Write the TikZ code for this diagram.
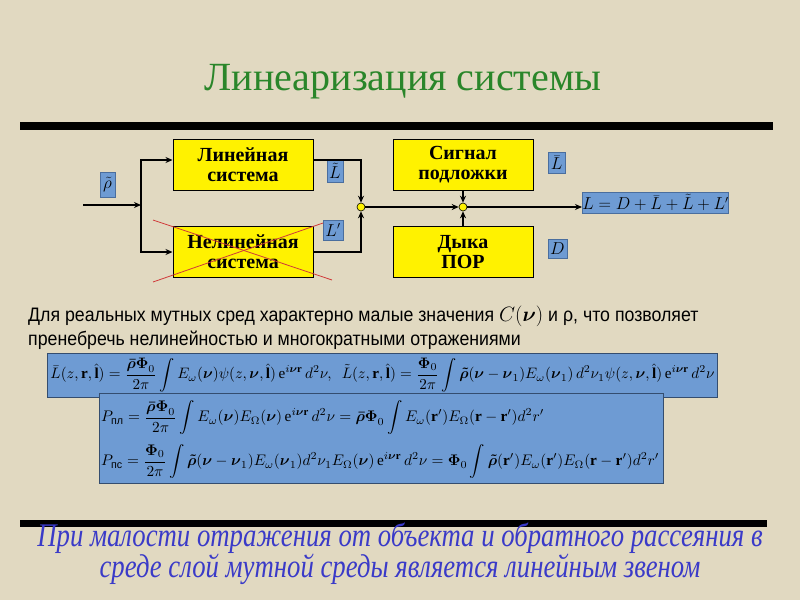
\documentclass[tikz,border=0pt]{standalone}
\usepackage{fontspec}
\usepackage{amsmath}
\usepackage{graphicx}
\setmainfont{Liberation Serif}
\setsansfont{Liberation Sans}
\newfontfamily\narrowsans[FakeStretch=0.91]{Liberation Sans}
\newfontfamily\narrowserif[FakeStretch=0.81]{Liberation Serif}
\usetikzlibrary{arrows.meta}
\definecolor{bg}{HTML}{E1D9C1}
\definecolor{titlegreen}{HTML}{2A862A}
\definecolor{lblblue}{HTML}{6E9BD3}
\definecolor{lblborder}{HTML}{4A6E9E}
\definecolor{bluetext}{HTML}{3A3AC8}
\definecolor{crossred}{HTML}{D03A3A}
\begin{document}
\begin{tikzpicture}[x=1pt,y=-1pt,
  block/.style={draw=black, fill=yellow, line width=1pt, inner sep=0pt,
    minimum width=140pt, minimum height=51pt, align=center,
    font=\bfseries\fontsize{20}{20}\selectfont},
  lbl/.style={draw=lblborder, fill=lblblue, inner sep=0pt, line width=0.6pt,
    font=\fontsize{16}{16}\selectfont},
  fbox/.style={draw=lblborder!70!black, fill=lblblue, line width=0.8pt, inner sep=0pt},
  junc/.style={circle, draw=black, fill=yellow, inner sep=0pt, minimum size=8pt, line width=0.6pt},
  arr/.style={line width=1.6pt, -{Stealth[length=7pt,width=6pt]}},
  ptext/.style={anchor=west, inner sep=0pt, font=\narrowsans\fontsize{19.5}{20}\selectfont},
  btext/.style={text=bluetext, inner sep=0pt, font=\narrowserif\itshape\fontsize{33}{33}\selectfont}
]
\fill[bg] (0,0) rectangle (800,600);
\useasboundingbox (0,0) rectangle (800,600);

% title
\node[anchor=base, text=titlegreen, font=\fontsize{40}{44}\selectfont] (title) at (403,90) {Линеаризация системы};
\fill[black] (20,122) rectangle (773,130);

% blocks
\node[block] (lin) at (243,164.5) {Линейная\\система};
\node[block] (nonlin) at (243,252) {Нелинейная\\система};
\node[block] (sig) at (463,164.5) {Сигнал\\подложки};
\node[block] (dyka) at (463,252) {Дыка\\ПОР};

% labels
\node[lbl, minimum width=15pt, minimum height=25pt] (lrho) at (107.5,184.5) {$\tilde\rho$};
\node[lbl, minimum width=16pt, minimum height=22pt] (ltil) at (335,171) {$\tilde L$};
\node[lbl, minimum width=20pt, minimum height=20pt] (lprime) at (333,230) {$L'$};
\node[lbl, minimum width=17pt, minimum height=21pt] (lbar) at (556.5,162.5) {$\bar L$};
\node[lbl, minimum width=19pt, minimum height=19pt] (ld) at (557.5,249) {$D$};
\node[lbl, minimum width=129pt, minimum height=21pt] (leq) at (655.5,202.5) {$L=D+\bar L+\tilde L+L'$};

% junctions
\coordinate (in) at (83,205);
\coordinate (split) at (141,205);
\node[junc] (j1) at (361,207) {};
\node[junc] (j2) at (463,207) {};
\coordinate (out) at (582,207);

% connectors
\draw[arr] (in) -- (split);
\draw[arr] (split) |- ([yshift=4.5pt]lin.west);
\draw[arr] (split) |- (nonlin.west);
\draw[arr] ([yshift=4.5pt]lin.east) -| (j1);
\draw[arr] (nonlin.east) -| (j1);
\draw[arr] (j1) -- (j2);
\draw[arr] (sig.south) -- (j2);
\draw[arr] (dyka.north) -- (j2);
\draw[arr] (j2) -- (out);

% red cross
\draw[crossred, line width=0.8pt] (153,220) -- (332,280);
\draw[crossred, line width=0.8pt] (153,282) -- (323,223);

% paragraph
\node[ptext] (p1) at (28,316)
  {Для реальных мутных сред характерно малые значения $C(\boldsymbol{\nu})$ и ρ, что позволяет};
\node[ptext] (p2) at (28,340)
  {пренебречь нелинейностью и многократными отражениями};

% formula boxes
\node[fbox, minimum width=670pt, minimum height=44pt] (f1box) at (382,375) {};
\node[inner sep=0pt] (f1) at (382.5,375) {\resizebox{664pt}{!}{$\displaystyle
  \bar{L}(z,\mathbf{r},\hat{\mathbf{l}})=\frac{\boldsymbol{\bar\rho\Phi}_0}{2\pi}\int E_\omega(\boldsymbol{\nu})\psi(z,\boldsymbol{\nu},\hat{\mathbf{l}})\,\mathrm{e}^{i\boldsymbol{\nu}\mathbf{r}}\,d^2\nu,\ \
  \tilde{L}(z,\mathbf{r},\hat{\mathbf{l}})=\frac{\boldsymbol{\Phi}_0}{2\pi}\int\boldsymbol{\tilde\rho}(\boldsymbol{\nu}-\boldsymbol{\nu}_1)E_\omega(\boldsymbol{\nu}_1)\,d^2\nu_1\psi(z,\boldsymbol{\nu},\hat{\mathbf{l}})\,\mathrm{e}^{i\boldsymbol{\nu}\mathbf{r}}\,d^2\nu$}};

\node[fbox, minimum width=564pt, minimum height=90pt] (f2box) at (381,438) {};
\node[anchor=west, inner sep=0pt] (f2) at (101,418) {\resizebox{443pt}{!}{$\displaystyle
  P_{\textsf{пл}}=\frac{\boldsymbol{\bar\rho\Phi}_0}{2\pi}\int E_\omega(\boldsymbol{\nu})E_\Omega(\boldsymbol{\nu})\,\mathrm{e}^{i\boldsymbol{\nu}\mathbf{r}}\,d^2\nu=\boldsymbol{\bar\rho\Phi}_0\int E_\omega(\mathbf{r}')E_\Omega(\mathbf{r}-\mathbf{r}')d^2r'$}};
\node[anchor=west, inner sep=0pt] (f3) at (101,462) {\resizebox{558pt}{!}{$\displaystyle
  P_{\textsf{пс}}=\frac{\boldsymbol{\Phi}_0}{2\pi}\int\boldsymbol{\tilde\rho}(\boldsymbol{\nu}-\boldsymbol{\nu}_1)E_\omega(\boldsymbol{\nu}_1)d^2\nu_1E_\Omega(\boldsymbol{\nu})\,\mathrm{e}^{i\boldsymbol{\nu}\mathbf{r}}\,d^2\nu=\boldsymbol{\Phi}_0\int\boldsymbol{\tilde\rho}(\mathbf{r}')E_\omega(\mathbf{r}')E_\Omega(\mathbf{r}-\mathbf{r}')d^2r'$}};

% bottom
\fill[black] (20,520) rectangle (767,527);
\node[btext] (b1) at (400,538)
  {При малости отражения от объекта и обратного рассеяния в};
\node[btext] (b2) at (400,569)
  {среде слой мутной среды является линейным звеном};
\end{tikzpicture}
\end{document}
